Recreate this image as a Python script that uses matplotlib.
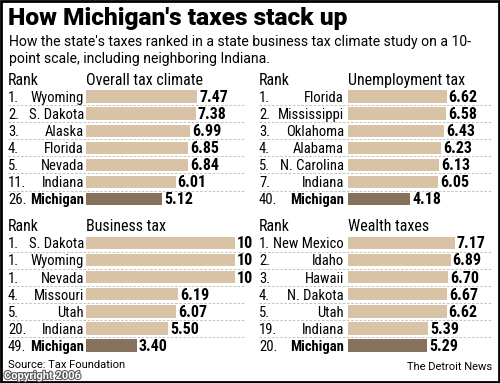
import matplotlib
matplotlib.use("Agg")
import matplotlib.pyplot as plt
import matplotlib.patheffects as pe
from matplotlib.patches import Rectangle

W, H = 500, 383
TAN = '#d8c3a6'
BROWN = '#86715d'
NARROW = ['Roboto Condensed', 'DejaVu Sans']
SANS = ['Roboto', 'DejaVu Sans']

overall_ranks = ['1.', '2.', '3.', '4.', '5.', '11.', '26.']
overall_states = ['Wyoming', 'S. Dakota', 'Alaska', 'Florida', 'Nevada', 'Indiana', 'Michigan']
overall_values = [7.47, 7.38, 6.99, 6.85, 6.84, 6.01, 5.12]
overall_labels = ['7.47', '7.38', '6.99', '6.85', '6.84', '6.01', '5.12']

unemp_ranks = ['1.', '2.', '3.', '4.', '5.', '7.', '40.']
unemp_states = ['Florida', 'Mississippi', 'Oklahoma', 'Alabama', 'N. Carolina', 'Indiana', 'Michigan']
unemp_values = [6.62, 6.58, 6.43, 6.23, 6.13, 6.05, 4.18]
unemp_labels = ['6.62', '6.58', '6.43', '6.23', '6.13', '6.05', '4.18']

business_ranks = ['1.', '1.', '1.', '4.', '5.', '20.', '49.']
business_states = ['S. Dakota', 'Wyoming', 'Nevada', 'Missouri', 'Utah', 'Indiana', 'Michigan']
business_values = [10, 10, 10, 6.19, 6.07, 5.50, 3.40]
business_labels = ['10', '10', '10', '6.19', '6.07', '5.50', '3.40']

wealth_ranks = ['1.', '2.', '3.', '4.', '5.', '19.', '20.']
wealth_states = ['New Mexico', 'Idaho', 'Hawaii', 'N. Dakota', 'Utah', 'Indiana', 'Michigan']
wealth_values = [7.17, 6.89, 6.70, 6.67, 6.62, 5.39, 5.29]
wealth_labels = ['7.17', '6.89', '6.70', '6.67', '6.62', '5.39', '5.29']

PX_PER_UNIT = 14.9
PITCH = 17.1

fig = plt.figure(figsize=(W / 100, H / 100), dpi=100)
fig.patch.set_facecolor('white')


def fx(x):
    return x / W


def fy(y):
    return 1 - y / H


def panel(title, ranks, states, values, labels, rank_px, left, right, state_gap, first_row):
    # bars start at `left` px, rows centred from first_row downward
    top = first_row - PITCH / 2
    n = len(values)
    ax = fig.add_axes([fx(left), fy(top + n * PITCH), (right - left) / W, n * PITCH / H])
    ax.set_xlim(0, (right - left) / PX_PER_UNIT)
    ax.set_ylim(n - 0.5, -0.5)
    ax.axis('off')
    colors = [TAN] * (n - 1) + [BROWN]
    ax.barh(range(n), values, height=0.72, color=colors)
    rank_x = -(left - rank_px) / PX_PER_UNIT
    state_x = -state_gap / PX_PER_UNIT
    for i in range(n):
        wt = 'bold' if i == n - 1 else 'normal'
        ax.text(rank_x, i + 0.08, ranks[i], ha='left', va='center', fontsize=10.5,
                family=NARROW, clip_on=False)
        ax.text(state_x, i + 0.08, states[i], ha='right', va='center', fontsize=10.5,
                family=NARROW, weight=wt, clip_on=False)
        ax.text(values[i] + 2 / PX_PER_UNIT, i + 0.05, labels[i], ha='left', va='center',
                fontsize=11.5, family=NARROW, weight='bold', clip_on=False)
    for i in range(n - 1):
        ax.plot([rank_x, ax.get_xlim()[1]], [i + 0.5, i + 0.5], color='#b8b8b8',
                lw=0.6, ls=(0, (3, 2)), clip_on=False)
    ax.text(rank_x, -0.95, 'Rank', ha='left', va='center', fontsize=11.5, family=NARROW)
    ax.text(0, -0.95, title, ha='left', va='center', fontsize=11.5, family=NARROW)
    return ax


panel('Overall tax climate', overall_ranks, overall_states, overall_values, overall_labels,
      8, 86, 244, 2, 96.5)
panel('Unemployment tax', unemp_ranks, unemp_states, unemp_values, unemp_labels,
      259, 348, 492, 4, 96.5)
panel('Business tax', business_ranks, business_states, business_values, business_labels,
      8, 86, 244, 2, 243)
panel('Wealth taxes', wealth_ranks, wealth_states, wealth_values, wealth_labels,
      259, 348, 492, 4, 243)


def fit_text(x, y, s, target_w, **kw):
    t = fig.text(fx(x), fy(y), s, ha='left', va='center', **kw)
    r = fig.canvas.get_renderer()
    w = t.get_window_extent(renderer=r).width
    t.set_fontsize(t.get_fontsize() * target_w / w)
    return t


fit_text(8, 18, "How Michigan's taxes stack up", 339, fontsize=17, family=SANS, weight='black')
sub_line1 = fit_text(9, 42, "How the state's taxes ranked in a state business tax climate study on a 10-",
                     464, fontsize=10.5, family=SANS)
fig.text(fx(9), fy(59), "point scale, including neighboring Indiana.", ha='left', va='center',
         fontsize=sub_line1.get_fontsize(), family=SANS)

fig.text(fx(8), fy(365), 'Source: Tax Foundation', ha='left', va='center', fontsize=8,
         family=SANS)
fig.text(fx(492), fy(367), 'The Detroit News', ha='right', va='center', fontsize=8,
         family=SANS)
fig.text(fx(4), fy(376), 'Copyright 2006', ha='left', va='center', fontsize=8,
         family=SANS, weight='bold', color='white',
         path_effects=[pe.withStroke(linewidth=1.5, foreground='#555555')])

fig.patches.append(Rectangle((0.002, 0.003), 0.995, 0.994, transform=fig.transFigure,
                             fill=False, edgecolor='black', lw=2))

fig.savefig('out.png', dpi=100)
